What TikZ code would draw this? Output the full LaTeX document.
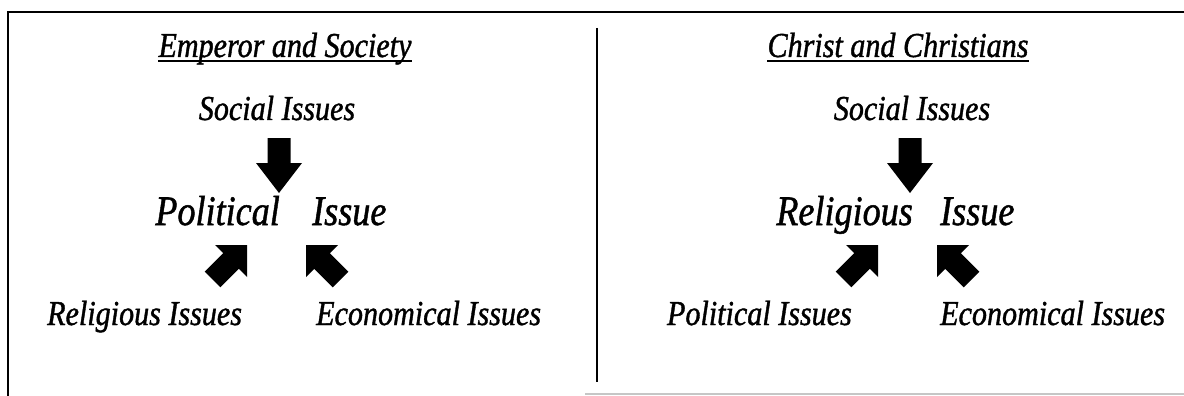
\documentclass[tikz,border=0pt]{standalone}
\usepackage{graphicx}
\usepackage{fontspec}
\setmainfont{Liberation Serif}
\newfontfamily\hand{Liberation Serif Italic}[FakeBold=1.2]
\newcommand{\cnd}[1]{\scalebox{0.86}[1]{#1}}
\begin{document}
\begin{tikzpicture}[x=1pt,y=-1pt,
  lbl/.style={font=\fontsize{35}{38}\hand, inner sep=0pt},
  big/.style={font=\fontsize{42}{45}\hand, inner sep=0pt},
  ttl/.style={font=\fontsize{35}{38}\hand, inner sep=0pt},
  blk/.style={fill=black},
  rulebar/.style={line width=2.6pt, draw=black},
  uline/.style={line width=1.4pt}]
\useasboundingbox (0,0) rectangle (1184,396);
\fill[white] (0,0) rectangle (1184,396);
% frame
\draw[rulebar] (7,12) -- (1184,12);
\draw[rulebar] (8,12) -- (8,396);
\draw[rulebar] (597,28) -- (597,382);
\draw[gray!45, line width=1.5pt] (585,394) -- (1184,394);
% left half
\node[ttl, anchor=base] (t1) at (285,57) {\cnd{Emperor and Society}};
\draw[uline] ([yshift=-4pt]t1.base west) -- ([yshift=-4pt]t1.base east);
\node[lbl, anchor=base] (s1) at (277,120) {\cnd{Social Issues}};
\node[big, anchor=base east] (p1) at (280,225) {\cnd{Political}};
\node[big, anchor=base west] (i1) at (312,225) {\cnd{Issue}};
\node[lbl, anchor=base west] (r1) at (47,325) {\cnd{Religious Issues}};
\node[lbl, anchor=base west] (e1) at (316,325) {\cnd{Economical Issues}};
% right half
\node[ttl, anchor=base] (t2) at (898,57) {\cnd{Christ and Christians}};
\draw[uline] ([yshift=-4pt]t2.base west) -- ([yshift=-4pt]t2.base east);
\node[lbl, anchor=base] (s2) at (912,120) {\cnd{Social Issues}};
\node[big, anchor=base east] (p2) at (913,225) {\cnd{Religious}};
\node[big, anchor=base west] (i2) at (940,225) {\cnd{Issue}};
\node[lbl, anchor=base east] (r2) at (852,325) {\cnd{Political Issues}};
\node[lbl, anchor=base west] (e2) at (940,325) {\cnd{Economical Issues}};
% arrow tips
\coordinate (d1) at (279,193);
\coordinate (d2) at (910,193);
\coordinate (ne1) at (247,245);
\coordinate (nw1) at (306,245);
\coordinate (ne2) at (878,245);
\coordinate (nw2) at (937,245);
% down arrows
\foreach \t in {d1,d2}
  \fill[blk] (\t) -- ++(-23,-30) -- ++(11.5,0) -- ++(0,-25) -- ++(23,0) -- ++(0,25) -- ++(11.5,0) -- cycle;
% up-right arrows
\foreach \t in {ne1,ne2}
  \fill[blk] (\t) -- ++(-32,0) -- ++(8.2,8.2) -- ++(-18.5,18.5) -- ++(15.6,15.6) -- ++(18.5,-18.5) -- ++(8.2,8.2) -- cycle;
% up-left arrows
\foreach \t in {nw1,nw2}
  \fill[blk] (\t) -- ++(32,0) -- ++(-8.2,8.2) -- ++(18.5,18.5) -- ++(-15.6,15.6) -- ++(-18.5,-18.5) -- ++(-8.2,8.2) -- cycle;
\end{tikzpicture}
\end{document}
